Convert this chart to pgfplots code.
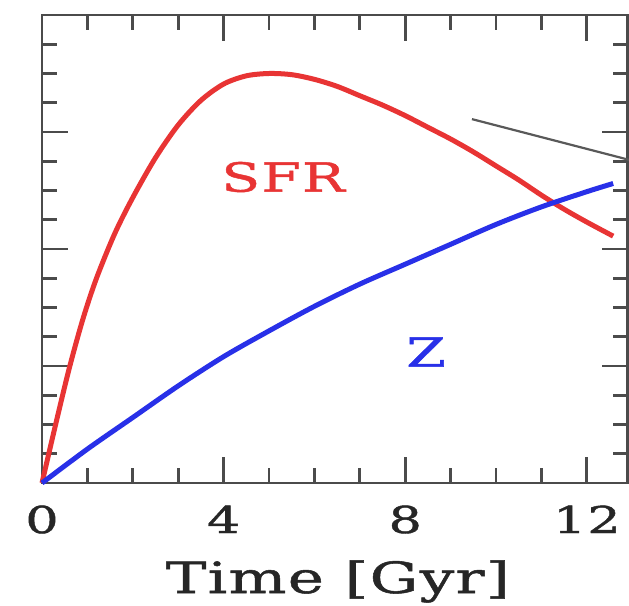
\documentclass[border=0pt]{standalone}
\usepackage{pgfplots}
\pgfplotsset{compat=1.18}
\usepackage{fontspec}
\setmainfont{DejaVu Serif}[FakeStretch=1.42, LetterSpace=3, FakeBold=1.2]
\definecolor{sfr}{RGB}{232,52,52}
\definecolor{zc}{RGB}{40,48,232}
\definecolor{ax}{RGB}{75,75,75}
\begin{document}
\begin{tikzpicture}
\useasboundingbox (0,0) rectangle (629pt,605pt);
\begin{axis}[
  at={(42pt,122pt)}, anchor=south west,
  scale only axis, width=585.7pt, height=468pt,
  xmin=0, xmax=12.9, ymin=0, ymax=4,
  xtick={0,4,8,12}, minor x tick num=3,
  ytick={0,1,2,3,4}, minor y tick num=3, yticklabels={},
  tick align=inside,
  xtick pos=both, ytick pos=both,
  major tick length=26pt, minor tick length=15pt,
  axis line style={ax, line width=2.8pt},
  tick style={ax, line width=2.8pt},
  /pgf/number format/assume math mode=true,
  xticklabel style={font=\fontsize{37}{40}\selectfont, text=black!85, anchor=base, yshift=-50pt},
  xlabel={Time [Gyr]},
  xlabel style={font=\fontsize{43}{45}\selectfont, text=black!85, at={(axis description cs:0.505,0)}, anchor=base, yshift=-110pt},
  clip=false,
]
\addplot[sfr, line width=5pt, smooth] coordinates {
 (0,0) (0.3,0.5) (0.6,0.98) (0.9,1.40) (1.2,1.75) (1.6,2.13) (2.0,2.44)
 (2.5,2.78) (3.0,3.06) (3.5,3.27) (4.0,3.41) (4.5,3.48) (5.0,3.50) (5.5,3.49)
 (6.0,3.45) (6.5,3.39) (7.0,3.31) (7.5,3.23) (8.0,3.14) (8.5,3.04) (9.0,2.94)
 (9.5,2.83) (10.0,2.71) (10.5,2.59) (11.0,2.46) (11.5,2.34) (12.0,2.23) (12.58,2.11)
};
\addplot[zc, line width=5pt, smooth] coordinates {
 (0,0) (1,0.29) (2,0.56) (3,0.83) (4,1.08) (5,1.30) (6,1.51) (7,1.70)
 (8,1.87) (9,2.04) (10,2.21) (11,2.36) (12,2.49) (12.58,2.56)
};
\addplot[black!65, line width=2.2pt] coordinates {(9.47,3.11) (12.95,2.76)};
\node[text=sfr, font=\fontsize{40}{44}\selectfont] at (axis cs:5.31,2.615) {SFR};
\node[text=zc, font=\fontsize{40}{44}\selectfont] at (axis cs:8.46,1.12) {Z};
\end{axis}
\end{tikzpicture}
\end{document}
